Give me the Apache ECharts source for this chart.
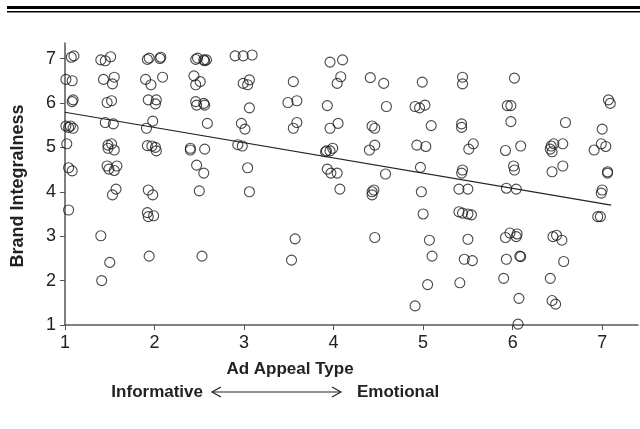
<!DOCTYPE html>
<html>
<head>
<meta charset="utf-8">
<script src="https://cdn.jsdelivr.net/npm/echarts@6/dist/echarts.min.js"></script>
<style>
html, body { margin:0; padding:0; background:#fff; }
#charts { width:640px; height:429px; }
</style>
</head>
<body>
<div id="charts"></div>
<script>
// 散点数据（广告诉求类型 / 品牌整合度），读图估计
var appealType = [
	1.07,1.10,1.40,1.45,1.51,1.92,1.94,2.07,2.06,2.46,2.48,2.55,2.56,2.58,2.90,2.99,3.09,3.96,4.10,
	1.01,1.08,1.43,1.55,1.53,1.90,1.96,2.09,2.44,2.51,2.46,2.99,3.06,3.04,3.55,4.04,4.08,4.41,4.56,4.99,5.44,5.44,6.02,
	1.08,1.09,1.47,1.52,1.93,2.02,2.01,2.46,2.47,2.55,2.56,3.06,3.49,3.59,3.93,4.59,4.91,4.96,5.02,5.94,5.98,7.07,7.09,
	0.99,1.01,1.04,1.09,1.06,1.45,1.54,1.91,1.98,2.59,2.97,3.01,3.59,3.55,3.96,4.05,4.43,4.46,5.09,5.43,5.43,5.98,6.59,7.00,
	1.02,1.48,1.52,1.48,1.55,1.92,1.97,2.01,2.02,2.40,2.40,2.56,2.93,2.98,3.91,3.92,3.96,3.99,4.40,4.46,4.93,5.03,5.51,5.56,5.92,6.09,6.43,6.46,6.44,6.42,6.56,6.91,6.99,7.04,
	1.04,1.08,1.47,1.49,1.58,1.55,2.47,2.55,3.04,3.93,3.97,4.04,4.58,4.97,5.44,5.43,6.01,6.02,6.44,6.56,7.06,7.06,
	1.53,1.57,1.93,1.98,2.50,3.06,4.07,4.43,4.45,4.43,4.98,5.40,5.50,5.93,6.04,7.00,6.99,
	1.04,1.92,1.93,1.99,5.00,5.40,5.44,5.50,5.54,6.95,6.98,
	1.40,3.57,4.46,5.07,5.50,5.92,5.97,6.05,6.04,6.45,6.49,6.55,
	1.50,1.94,2.53,3.53,5.10,5.46,5.55,5.93,6.09,6.08,6.57,
	1.41,5.05,5.41,5.90,6.42,
	4.91,6.07,6.44,6.48,
	6.06
];
var brandIntegral = [
	7.03,7.06,6.97,6.95,7.04,6.98,7.01,7.03,7.00,6.98,7.01,6.97,6.95,6.97,7.06,7.06,7.08,6.92,6.97,
	6.53,6.50,6.53,6.58,6.43,6.53,6.41,6.58,6.61,6.48,6.41,6.44,6.52,6.41,6.48,6.44,6.59,6.57,6.44,6.47,6.58,6.43,6.56,
	6.03,6.07,6.01,6.05,6.07,6.07,5.98,6.03,5.95,5.99,5.95,5.89,6.01,6.05,5.94,5.92,5.92,5.89,5.95,5.94,5.94,6.07,5.99,
	5.60,5.48,5.45,5.43,5.48,5.56,5.53,5.43,5.59,5.54,5.54,5.41,5.56,5.43,5.43,5.54,5.48,5.43,5.49,5.53,5.45,5.58,5.56,5.41,
	5.08,5.05,5.08,4.98,4.94,5.04,5.03,5.00,4.92,4.98,4.94,4.96,5.06,5.03,4.90,4.92,4.92,4.98,4.94,5.05,5.05,5.02,4.96,5.08,4.93,5.03,5.03,5.08,4.90,4.96,5.08,4.94,5.08,5.02,
	4.54,4.47,4.58,4.51,4.58,4.48,4.60,4.42,4.54,4.51,4.42,4.42,4.40,4.55,4.49,4.42,4.58,4.49,4.45,4.58,4.45,4.42,
	3.93,4.06,4.04,3.93,4.02,4.00,4.06,4.00,4.04,3.93,4.00,4.06,4.06,4.08,4.06,4.04,3.97,
	3.59,3.53,3.44,3.46,3.50,3.55,3.52,3.50,3.48,3.44,3.44,
	3.01,2.94,2.97,2.91,2.93,2.97,3.07,3.05,2.99,2.99,3.02,2.91,
	2.41,2.55,2.55,2.46,2.55,2.48,2.45,2.48,2.54,2.55,2.43,
	2.00,1.91,1.95,2.05,2.05,
	1.43,1.60,1.55,1.47,
	1.02
];
// 回归直线两端
var fitX = [1, 7.1];
var fitY = [5.79, 3.70];

var xTitle = "Ad Appeal Type";
var yTitle = "Brand Integralness";

var points = [];
for(var i=0; i<appealType.length; i++){
	points.push([appealType[i], brandIntegral[i]]);
}
var fitLine = [];
for(var j=0; j<fitX.length; j++){
	fitLine.push([fitX[j], fitY[j]]);
}

var myCharts = echarts.init(document.getElementById("charts"));
var axisColor = "#555";
var fontName = "Liberation Sans, Arial, sans-serif";

var option = {
	animation:false,
	grid:{left:65, top:43, width:573, height:282},
	xAxis:{
		type:'value', min:1, max:7.4, interval:1,
		axisLine:{lineStyle:{color:axisColor, width:1.5}},
		axisTick:{length:5, lineStyle:{color:axisColor}},
		axisLabel:{color:'#222', fontSize:18, fontFamily:fontName, margin:9, showMaxLabel:false},
		splitLine:{show:false}
	},
	yAxis:{
		type:'value', min:1, max:7.35, interval:1,
		axisLine:{show:true, lineStyle:{color:axisColor, width:1.5}},
		axisTick:{show:true, length:5, lineStyle:{color:axisColor}},
		axisLabel:{color:'#222', fontSize:18, fontFamily:fontName, margin:9, showMaxLabel:false},
		splitLine:{show:false}
	},
	series:[
		{
			type:'line', data:fitLine, symbol:'none', silent:true, z:1,
			lineStyle:{color:'#222', width:1.2}
		},
		{
			type:'scatter', data:points, symbol:'circle', symbolSize:10, z:2,
			itemStyle:{color:'rgba(255,255,255,0)', borderColor:'#1a1a1a', borderWidth:1.1}
		}
	],
	graphic:[
		{type:'rect', left:7, top:6, shape:{width:633, height:3}, style:{fill:'#000'}},
		{type:'rect', left:7, top:11, shape:{width:633, height:1.5}, style:{fill:'#000'}},
		{type:'text', x:18, y:186, rotation:Math.PI/2,
			style:{text:yTitle, font:'bold 18px ' + fontName, fill:'#222', align:'center', verticalAlign:'middle'}},
		{type:'text', x:290, y:369,
			style:{text:xTitle, font:'bold 17px ' + fontName, fill:'#222', align:'center', verticalAlign:'middle'}},
		{type:'text', x:203, y:392,
			style:{text:'Informative', font:'bold 17px ' + fontName, fill:'#222', align:'right', verticalAlign:'middle'}},
		{type:'text', x:357, y:392,
			style:{text:'Emotional', font:'bold 17px ' + fontName, fill:'#222', align:'left', verticalAlign:'middle'}},
		{type:'line', shape:{x1:212, y1:392, x2:341, y2:392}, style:{stroke:'#222', lineWidth:1.2}},
		{type:'polyline', shape:{points:[[221,387],[212,392],[221,397]]}, style:{stroke:'#222', fill:null, lineWidth:1.2}},
		{type:'polyline', shape:{points:[[332,387],[341,392],[332,397]]}, style:{stroke:'#222', fill:null, lineWidth:1.2}}
	]
};
myCharts.setOption(option);
</script>
</body>
</html>
